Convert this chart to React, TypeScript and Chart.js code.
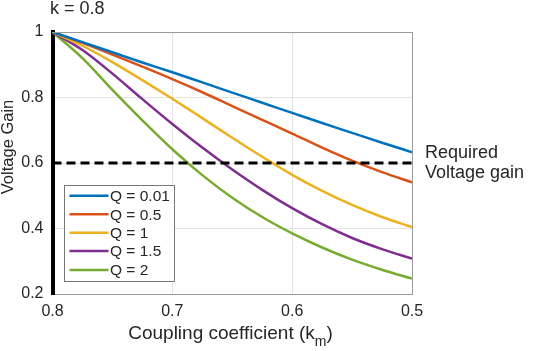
import React, { useEffect, useRef } from "react";
import { Chart, registerables } from "chart.js";

Chart.register(...registerables);

const kValues = [0.8, 0.775, 0.75, 0.725, 0.7, 0.675, 0.65, 0.625, 0.6, 0.575, 0.55, 0.525, 0.5];
const gainQ001 = [1, 0.969, 0.938, 0.907, 0.877, 0.846, 0.815, 0.784, 0.753, 0.722, 0.692, 0.662, 0.633];
const gainQ05 = [1, 0.967, 0.931, 0.894, 0.856, 0.816, 0.774, 0.732, 0.69, 0.647, 0.607, 0.572, 0.541];
const gainQ1 = [1, 0.958, 0.908, 0.853, 0.796, 0.737, 0.677, 0.619, 0.564, 0.515, 0.472, 0.435, 0.404];
const gainQ15 = [1, 0.945, 0.873, 0.795, 0.719, 0.647, 0.58, 0.518, 0.462, 0.413, 0.371, 0.337, 0.308];
const gainQ2 = [1, 0.92, 0.823, 0.73, 0.642, 0.563, 0.494, 0.435, 0.385, 0.342, 0.305, 0.274, 0.247];
const seriesLabels = ["Q = 0.01", "Q = 0.5", "Q = 1", "Q = 1.5", "Q = 2"];
const seriesColors = ["#0072BD", "#D95319", "#EDB120", "#7E2F8E", "#77AC30"];
const requiredGain = 0.6;
const xTicks = [0.8, 0.7, 0.6, 0.5];
const yTicks = [0.2, 0.4, 0.6, 0.8, 1];

const FONT = "'Liberation Sans', Arial, Helvetica, sans-serif";
const TEXT = "#262626";

const decorPlugin = {
  id: "decor",
  afterDraw(chart: any) {
    const ctx = chart.ctx;
    const a = chart.chartArea;
    ctx.save();
    // top and right box lines
    ctx.strokeStyle = "#9a9a9a";
    ctx.lineWidth = 1;
    ctx.beginPath();
    ctx.moveTo(a.left, a.top + 0.5);
    ctx.lineTo(a.right + 0.5, a.top + 0.5);
    ctx.lineTo(a.right + 0.5, a.bottom);
    ctx.stroke();

    // title
    ctx.fillStyle = TEXT;
    ctx.font = `18px ${FONT}`;
    ctx.textAlign = "left";
    ctx.textBaseline = "alphabetic";
    ctx.fillText("k = 0.8", 50, 14);

    // required gain label
    ctx.font = `18px ${FONT}`;
    ctx.fillText("Required", 425, 158);
    ctx.fillText("Voltage gain", 425, 178);

    // x axis title with subscript
    const mainFont = `19px ${FONT}`;
    const subFont = `14px ${FONT}`;
    const p1 = "Coupling coefficient (k";
    const p2 = "m";
    const p3 = ")";
    ctx.font = mainFont;
    const w1 = ctx.measureText(p1).width;
    const w3 = ctx.measureText(p3).width;
    ctx.font = subFont;
    const w2 = ctx.measureText(p2).width;
    const total = w1 + w2 + w3;
    let x = 230.5 - total / 2;
    const base = 339;
    ctx.font = mainFont;
    ctx.fillText(p1, x, base);
    x += w1;
    ctx.font = subFont;
    ctx.fillText(p2, x, base + 7);
    x += w2;
    ctx.font = mainFont;
    ctx.fillText(p3, x, base);

    // y axis title
    ctx.save();
    ctx.translate(8.5, 147);
    ctx.rotate(-Math.PI / 2);
    ctx.font = `16.5px ${FONT}`;
    ctx.textAlign = "center";
    ctx.textBaseline = "middle";
    ctx.fillText("Voltage Gain", 0, 0);
    ctx.restore();

    // legend
    const lx = 64.5, ly = 185.5, lw = 110, lh = 96;
    ctx.fillStyle = "#ffffff";
    ctx.fillRect(lx, ly, lw, lh);
    ctx.strokeStyle = "#777777";
    ctx.lineWidth = 1;
    ctx.strokeRect(lx, ly, lw, lh);
    const rows = [195.7, 214.3, 232.7, 251, 270];
    ctx.font = `15.5px ${FONT}`;
    ctx.textBaseline = "middle";
    ctx.textAlign = "left";
    seriesLabels.forEach((lab, i) => {
      ctx.strokeStyle = seriesColors[i];
      ctx.lineWidth = 2.5;
      ctx.beginPath();
      ctx.moveTo(69.5, rows[i]);
      ctx.lineTo(108.5, rows[i]);
      ctx.stroke();
      ctx.fillStyle = TEXT;
      ctx.fillText(lab, 110, rows[i] + 1);
    });
    ctx.restore();
  },
};

export default function App() {
  const ref = useRef<HTMLCanvasElement | null>(null);
  useEffect(() => {
    if (!ref.current) return;
    const series = [gainQ001, gainQ05, gainQ1, gainQ15, gainQ2];
    const datasets: any[] = [
      {
        label: "Required",
        data: [
          { x: kValues[0], y: requiredGain },
          { x: kValues[kValues.length - 1], y: requiredGain },
        ],
        borderColor: "#000000",
        borderWidth: 3,
        borderDash: [9, 5],
        pointRadius: 0,
        fill: false,
      },
      ...series.map((s, i) => ({
        label: seriesLabels[i],
        data: kValues.map((k, j) => ({ x: k, y: s[j] })),
        borderColor: seriesColors[i],
        borderWidth: 2.5,
        pointRadius: 0,
        fill: false,
        cubicInterpolationMode: "monotone",
      })),
    ];
    const chart = new Chart(ref.current, {
      type: "line",
      data: { datasets },
      options: {
        animation: false,
        responsive: false,
        layout: { padding: { top: 32, right: 121, left: 0, bottom: 0 } },
        plugins: { legend: { display: false }, tooltip: { enabled: false }, title: { display: false } },
        scales: {
          x: {
            type: "linear",
            reverse: true,
            min: 0.5,
            max: 0.8,
            afterFit: (s: any) => { s.height = 57; },
            afterBuildTicks: (s: any) => { s.ticks = xTicks.map((v) => ({ value: v })); },
            ticks: {
              padding: 8,
              color: TEXT,
              font: { family: FONT, size: 16 },
              maxRotation: 0,
              callback: (v: any) => Number(v).toFixed(1),
            },
            grid: { color: "#e3e3e3", drawTicks: false, lineWidth: 1 },
            border: { display: true, color: "#9a9a9a", width: 1 },
          },
          y: {
            type: "linear",
            min: 0.2,
            max: 1,
            afterFit: (s: any) => { s.width = 52.5; },
            afterBuildTicks: (s: any) => { s.ticks = yTicks.map((v) => ({ value: v })); },
            ticks: {
              padding: 9,
              color: TEXT,
              font: { family: FONT, size: 16 },
              callback: (v: any) => (Number(v) === 1 ? "1" : Number(v).toFixed(1)),
            },
            grid: { color: "#e3e3e3", drawTicks: false, lineWidth: 1 },
            border: { display: true, color: "#000000", width: 4 },
          },
        },
      },
      plugins: [decorPlugin],
    } as any);
    return () => chart.destroy();
  }, []);
  return (
    <canvas
      ref={ref}
      width={533}
      height={351}
      style={{ position: "absolute", left: 0, top: 0, width: 533, height: 351, display: "block", background: "#fff" }}
    />
  );
}
